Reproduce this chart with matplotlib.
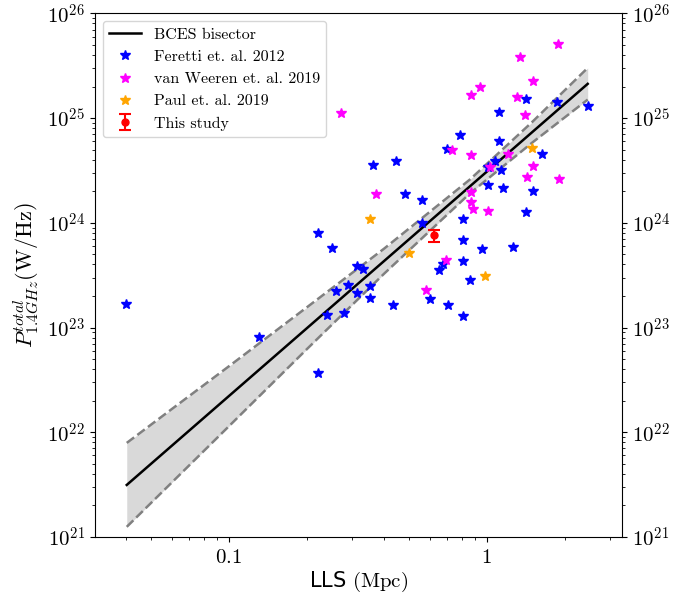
import numpy as np
import matplotlib
matplotlib.use('Agg')
import matplotlib.pyplot as plt
from matplotlib.ticker import FuncFormatter, NullFormatter, LogLocator

plt.rcParams['mathtext.fontset'] = 'cm'
plt.rcParams['font.family'] = 'DejaVu Sans'

# ---------------- data ----------------
feretti_lls = [0.040, 0.131, 0.221, 0.221, 0.251, 0.261, 0.289, 0.240, 0.280, 0.313,
               0.332, 0.313, 0.351, 0.351, 0.361, 0.443, 0.431, 0.482, 0.563, 0.563,
               0.603, 0.653, 0.677, 0.704, 0.702, 0.786, 0.805, 0.805, 0.805, 0.805,
               0.857, 0.954, 1.009, 1.077, 1.11, 1.11, 1.136, 1.157, 1.258, 1.413,
               1.413, 1.508, 1.629, 1.872, 2.456, 1.012]
feretti_p = [1.68e23, 8.18e22, 3.68e22, 8.05e23, 5.71e23, 2.21e23, 2.52e23, 1.31e23, 1.37e23, 3.90e23,
             3.63e23, 2.15e23, 2.51e23, 1.93e23, 3.57e24, 3.93e24, 1.63e23, 1.88e24, 1.66e24, 9.91e23,
             1.86e23, 3.57e23, 4.03e23, 1.64e23, 5.08e24, 6.95e24, 1.08e24, 6.87e23, 4.30e23, 1.28e23,
             2.85e23, 5.60e23, 2.30e24, 3.85e24, 5.97e24, 1.14e25, 3.20e24, 2.14e24, 5.89e23, 1.51e25,
             1.26e24, 2.03e24, 4.52e24, 1.41e25, 1.31e25, 3.44e24]

weeren_lls = [1.879, 1.346, 1.507, 0.937, 0.867, 1.307, 1.407, 0.271, 0.734, 0.867, 1.203,
              1.027, 1.510, 1.429, 1.906, 0.371, 0.867, 0.867, 0.885, 1.006, 0.692, 0.582]
weeren_p = [5.12e25, 3.82e25, 2.27e25, 1.97e25, 1.66e25, 1.59e25, 1.08e25, 1.11e25, 4.97e24, 4.43e24, 4.53e24,
            3.44e24, 3.52e24, 2.74e24, 2.61e24, 1.88e24, 1.96e24, 1.59e24, 1.35e24, 1.29e24, 4.40e23, 2.27e23]

paul_lls = [1.498, 0.351, 0.500, 0.985]
paul_p = [5.17e24, 1.08e24, 5.13e23, 3.09e23]

this_lls = [0.623]
this_p = [7.6e23]
this_err = [1.0e23]

# BCES bisector fit line and its confidence band
bces_lls = [0.0402, 2.46]
bces_p = [3.14e21, 2.12e25]
band_lls = [0.0402, 0.06, 0.1, 0.2, 0.4, 0.86, 1.5, 2.46]
band_upper = [7.91e21, 1.66e22, 4.26e22, 1.55e23, 5.67e23, 2.59e24, 9.18e24, 3.01e25]
band_lower = [1.25e21, 3.30e21, 1.14e22, 6.17e22, 3.27e23, 1.91e24, 5.83e24, 1.50e25]

# ---------------- figure ----------------
fig = plt.figure(figsize=(6.74, 5.96), dpi=100)
ax = fig.add_axes([0.1405, 0.099, 0.7823, 0.8787])
ax.set_xscale('log')
ax.set_yscale('log')

ax.fill_between(band_lls, band_lower, band_upper, color='0.85', lw=0, zorder=1)
ax.plot(band_lls, band_upper, '--', color='gray', lw=1.8, zorder=2)
ax.plot(band_lls, band_lower, '--', color='gray', lw=1.8, zorder=2)
ax.plot(bces_lls, bces_p, '-', color='black', lw=1.8, label='BCES bisector', zorder=3)

ax.plot(feretti_lls, feretti_p, '*', color='blue', ms=7.5, ls='none',
        label='Feretti et. al. 2012', zorder=4)
ax.plot(weeren_lls, weeren_p, '*', color='magenta', ms=7.5, ls='none',
        label='van Weeren et. al. 2019', zorder=5)
ax.plot(paul_lls, paul_p, '*', color='orange', ms=7.5, ls='none',
        label='Paul et. al. 2019', zorder=6)
ax.errorbar(this_lls, this_p, yerr=this_err, fmt='o', color='red', ms=5,
            capsize=4, elinewidth=1.5, capthick=1.5, label='This study', zorder=7)

ax.set_xlim(0.0302, 3.34)
ax.set_ylim(1e21, 1e26)

ax.xaxis.set_major_locator(LogLocator(base=10))
ax.xaxis.set_minor_locator(LogLocator(base=10, subs=np.arange(2, 10)))
ax.xaxis.set_major_formatter(FuncFormatter(lambda v, p: r'$%g$' % v))
ax.xaxis.set_minor_formatter(NullFormatter())
ax.yaxis.set_major_locator(LogLocator(base=10))
ax.yaxis.set_minor_locator(LogLocator(base=10, subs=np.arange(2, 10)))
ax.yaxis.set_major_formatter(FuncFormatter(lambda v, p: r'$10^{%d}$' % int(round(np.log10(v)))))
ax.yaxis.set_minor_formatter(NullFormatter())

ax.tick_params(axis='both', which='both', direction='out', labelsize=15)
ax.tick_params(axis='y', which='both', right=True, labelright=True)
ax.tick_params(axis='x', which='both', top=False)

ax.set_xlabel(r'LLS $(\mathrm{Mpc})$', fontsize=15, labelpad=2)
ax.set_ylabel(r'$P^{total}_{1.4GHz}(\mathrm{W/Hz})$', fontsize=16)

ax.legend(loc='upper left', prop={'family': 'cmr10', 'size': 11.5}, numpoints=1)

fig.savefig('out.png', dpi=100)
